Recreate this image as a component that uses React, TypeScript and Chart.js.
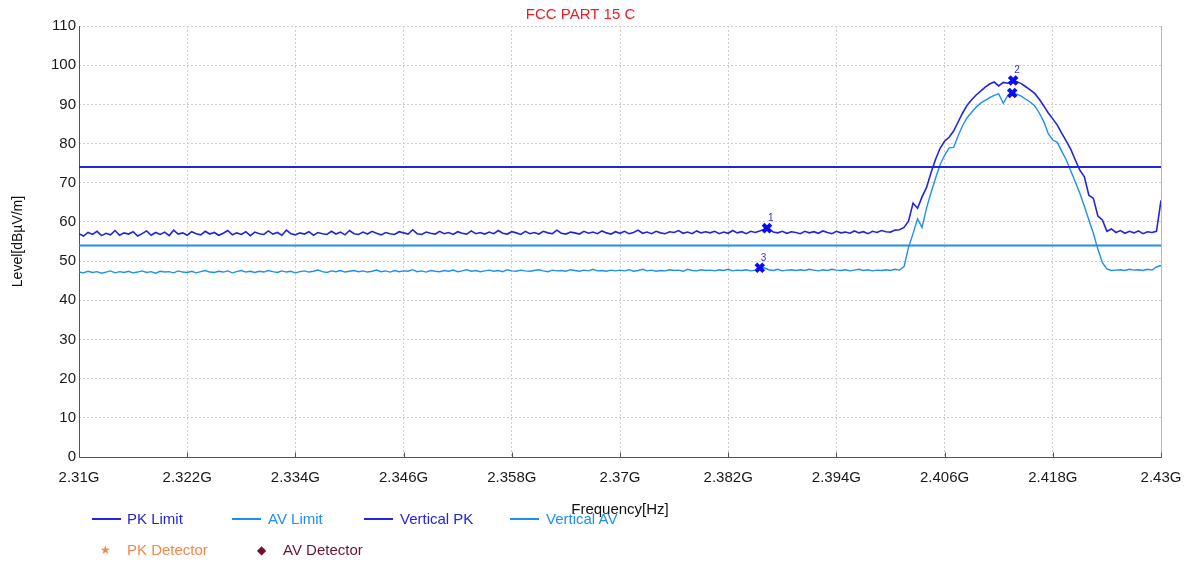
import React, { useEffect, useRef } from 'react';
import { Chart, registerables } from 'chart.js';

Chart.register(...registerables);

// ---- data ----
const FREQ_START_MHZ = 2310;
const FREQ_STEP_MHZ = 0.5; // sweep grid spacing

const xTickValues = [2310, 2322, 2334, 2346, 2358, 2370, 2382, 2394, 2406, 2418, 2430];
const xTickLabels = ['2.31G', '2.322G', '2.334G', '2.346G', '2.358G', '2.37G', '2.382G', '2.394G', '2.406G', '2.418G', '2.43G'];
const yTickValues = [0, 10, 20, 30, 40, 50, 60, 70, 80, 90, 100, 110];

const pkLimitLevel = 74;
const avLimitLevel = 54;

const verticalPK = [
  57.0, 56.4, 57.3, 56.8, 57.6, 56.5, 57.1, 56.7, 57.8, 56.6,
  57.2, 56.9, 57.5, 56.4, 57.0, 57.7, 56.6, 57.3, 56.8, 57.4,
  56.5, 57.9, 56.9, 57.2, 56.6, 57.5, 57.0, 56.7, 57.6, 56.9,
  57.3, 56.6, 57.1, 57.8, 56.7, 57.2, 56.8, 57.5, 56.5, 57.4,
  57.0, 56.8, 57.7, 56.9, 57.3, 56.6, 57.9, 57.0, 56.7, 57.2,
  56.9, 57.5, 56.6, 57.3, 57.0, 56.8, 57.6, 56.9, 57.4, 56.7,
  57.8, 57.0, 56.8, 57.4, 56.9, 57.6, 57.1, 56.7, 57.3, 57.0,
  56.8, 57.5, 57.2, 56.9, 58.0, 57.0, 56.8, 57.4, 57.1, 56.9,
  57.6, 57.0, 57.3, 56.8, 57.5, 57.1, 56.9, 57.7, 57.0, 57.3,
  56.9, 57.4, 57.0, 57.8, 57.1, 56.9, 57.5, 57.2, 56.8, 57.6,
  57.0, 57.3, 56.9, 57.6, 57.2, 57.0, 57.9, 57.1, 56.9, 57.4,
  57.2, 56.9, 57.6, 57.1, 57.4, 57.0, 57.7, 57.2, 56.9, 57.5,
  57.1, 57.6, 57.0, 57.3, 57.9, 57.1, 57.4, 57.0, 57.6, 57.2,
  57.0, 57.5, 57.3, 57.8, 57.1, 57.4, 57.0, 57.7, 57.2, 57.5,
  57.2, 57.6, 57.0, 57.4, 57.1, 57.8, 57.2, 57.5, 57.0, 57.6,
  57.3, 57.7, 58.1, 58.3, 57.4, 57.2, 57.6, 57.1, 57.5, 57.3,
  57.0, 57.6, 57.2, 57.5, 57.1, 57.7, 57.3, 57.0, 57.6, 57.2,
  57.4, 57.1, 57.7, 57.2, 57.5, 57.0, 57.6, 57.3, 57.8, 57.5,
  57.4, 57.9, 58.0, 58.6, 60.2, 64.8, 63.5, 66.4, 68.8, 72.6,
  76.0, 78.8, 80.6, 81.6, 83.2, 85.5, 87.8, 89.8, 91.2, 92.4,
  93.4, 94.4, 95.2, 95.7, 94.7, 95.6, 95.4, 96.1, 95.8, 95.3,
  94.5, 93.7, 92.8, 91.3, 89.6, 87.8, 86.3, 84.7, 82.6, 80.6,
  78.5, 75.8, 73.2, 71.5, 66.8, 66.0, 61.5, 60.5, 57.6, 58.2,
  57.3, 57.8, 57.1, 57.6, 57.2, 57.7, 57.0, 57.5, 57.3, 57.6,
  65.5,
];

const verticalAV = [
  47.2, 47.0, 47.4, 47.1, 47.3, 46.9, 47.2, 47.5, 47.0, 47.3,
  47.1, 47.4, 47.0, 47.2, 47.5, 47.1, 47.3, 46.9, 47.4, 47.2,
  47.3, 47.0, 47.5, 47.2, 47.1, 47.4, 47.0, 47.3, 47.6, 47.2,
  47.1, 47.4, 47.2, 47.5, 47.0, 47.3, 47.6, 47.2, 47.4, 47.1,
  47.4, 47.2, 47.6, 47.3, 47.1, 47.5, 47.2, 47.4, 47.0, 47.3,
  47.5, 47.2, 47.4, 47.7, 47.3, 47.1, 47.5, 47.3, 47.6, 47.2,
  47.4, 47.6, 47.3, 47.5, 47.2, 47.4, 47.7, 47.3, 47.5, 47.2,
  47.6, 47.3, 47.5, 47.4, 47.8, 47.3, 47.5, 47.2, 47.6, 47.4,
  47.3, 47.6, 47.4, 47.7, 47.3, 47.5, 47.8, 47.4, 47.6, 47.3,
  47.5, 47.7, 47.4, 47.6, 47.3, 47.8, 47.5, 47.4, 47.7, 47.5,
  47.4, 47.6, 47.8, 47.5, 47.3, 47.7, 47.5, 47.6, 47.4, 47.8,
  47.6, 47.4, 47.7, 47.5, 47.9, 47.5, 47.6, 47.4, 47.7, 47.5,
  47.7, 47.5, 47.8, 47.4, 47.6, 47.9, 47.5, 47.7, 47.4, 47.6,
  47.5, 47.8, 47.6, 47.7, 47.4, 47.9, 47.6, 47.5, 47.8, 47.6,
  47.7, 47.5, 47.8, 47.6, 47.9, 47.5, 47.7, 47.6, 47.8, 47.5,
  47.7, 48.1, 48.3, 47.8, 47.6, 47.9, 47.5, 47.7, 47.8, 47.6,
  47.8, 47.6, 47.9, 47.7, 47.5, 47.8, 47.6, 47.9, 47.7, 47.6,
  47.8, 47.5, 47.7, 47.9, 47.6, 47.8, 47.5, 47.7, 47.6, 47.8,
  47.6, 47.9, 47.7, 48.6, 53.5, 57.0, 60.8, 58.6, 63.6, 67.5,
  71.2, 74.6, 77.0, 78.9, 79.0, 82.0, 84.6, 86.6, 88.0, 89.3,
  90.3, 91.0, 91.7, 92.3, 92.7, 90.3, 92.2, 92.8, 92.6, 92.1,
  91.3, 90.6, 89.6, 87.8, 85.6, 82.5, 80.9, 80.3, 78.0, 75.8,
  73.0, 70.2, 67.3, 64.0, 60.5, 57.1, 53.0, 49.6, 48.0, 47.6,
  47.7, 47.8, 47.6, 47.9, 47.7, 47.8, 47.6, 47.9, 47.7, 48.5,
  48.9,
];

const markerFreqs = [2386.3, 2413.6, 2385.5, 2413.5];
const markerLevels = [58.4, 96.1, 48.3, 92.9];
const markerLabels = ['1', '2', '3', ''];

// ---- styles ----
const PK_COLOR = '#2424dc';
const AV_COLOR = '#1e8ff2';
const MARKER_COLOR = '#0c0cf0';
const FONT = '"Liberation Sans", Arial, sans-serif';

const legendRow1 = [
  { label: 'PK Limit', color: PK_COLOR, swatch: 92, text: 127 },
  { label: 'AV Limit', color: AV_COLOR, swatch: 232, text: 268 },
  { label: 'Vertical PK', color: PK_COLOR, swatch: 364, text: 400 },
  { label: 'Vertical AV', color: AV_COLOR, swatch: 510, text: 546 },
];
const legendRow2 = [
  { label: 'PK Detector', color: '#f0884a', symbol: '★', sym: 100, text: 127 },
  { label: 'AV Detector', color: '#6e1030', symbol: '◆', sym: 257, text: 283 },
];

export default function App() {
  const canvasRef = useRef<HTMLCanvasElement | null>(null);

  useEffect(() => {
    const canvas = canvasRef.current;
    if (!canvas) return;
    const freqs = verticalPK.map((_, i) => FREQ_START_MHZ + i * FREQ_STEP_MHZ);
    const xMin = xTickValues[0];
    const xMax = xTickValues[xTickValues.length - 1];

    const markerLabelPlugin = {
      id: 'markerLabels',
      afterDatasetsDraw(chart: any) {
        const { ctx, scales } = chart;
        ctx.save();
        ctx.font = `10px ${FONT}`;
        ctx.fillStyle = '#3030d8';
        ctx.textAlign = 'left';
        ctx.textBaseline = 'bottom';
        markerLabels.forEach((lab, i) => {
          if (!lab) return;
          const x = scales.x.getPixelForValue(markerFreqs[i]);
          const y = scales.y.getPixelForValue(markerLevels[i]);
          ctx.fillText(lab, x + 1, y - 5);
        });
        ctx.restore();
      },
    };

    const frameTicksPlugin = {
      id: 'frameTicks',
      beforeDatasetsDraw(chart: any) {
        const { ctx, scales, chartArea } = chart;
        ctx.save();
        ctx.lineWidth = 1;
        ctx.strokeStyle = '#b8b8b8';
        ctx.beginPath();
        ctx.moveTo(Math.round(chartArea.right) + 0.5, chartArea.top);
        ctx.lineTo(Math.round(chartArea.right) + 0.5, chartArea.bottom);
        ctx.stroke();
        ctx.strokeStyle = '#555';
        ctx.beginPath();
        const l = Math.round(chartArea.left) + 0.5;
        const b = Math.round(chartArea.bottom) + 0.5;
        ctx.moveTo(l, chartArea.top);
        ctx.lineTo(l, b);
        ctx.lineTo(chartArea.right + 0.5, b);
        xTickValues.forEach((v) => {
          const x = Math.round(scales.x.getPixelForValue(v)) + 0.5;
          ctx.moveTo(x, b);
          ctx.lineTo(x, b - 5);
        });
        ctx.stroke();
        ctx.restore();
      },
    };

    const chart = new Chart(canvas, {
      type: 'line',
      data: {
        datasets: [
          {
            label: 'PK Limit',
            data: [{ x: xMin, y: pkLimitLevel }, { x: xMax, y: pkLimitLevel }],
            borderColor: PK_COLOR,
            borderWidth: 2,
            pointRadius: 0,
          },
          {
            label: 'AV Limit',
            data: [{ x: xMin, y: avLimitLevel }, { x: xMax, y: avLimitLevel }],
            borderColor: AV_COLOR,
            borderWidth: 2,
            pointRadius: 0,
          },
          {
            label: 'Markers',
            data: markerFreqs.map((f, i) => ({ x: f, y: markerLevels[i] })),
            showLine: false,
            pointStyle: 'crossRot',
            pointRadius: 5.5,
            borderWidth: 4,
            borderColor: MARKER_COLOR,
            backgroundColor: MARKER_COLOR,
          },
          {
            label: 'Vertical PK',
            data: freqs.map((f, i) => ({ x: f, y: verticalPK[i] })),
            borderColor: PK_COLOR,
            borderWidth: 1.6,
            pointRadius: 0,
          },
          {
            label: 'Vertical AV',
            data: freqs.map((f, i) => ({ x: f, y: verticalAV[i] })),
            borderColor: AV_COLOR,
            borderWidth: 1.4,
            pointRadius: 0,
          },
        ],
      },
      options: {
        animation: false,
        responsive: false,
        maintainAspectRatio: false,
        layout: { padding: { left: 0, right: 33, top: 0, bottom: 0 } },
        plugins: {
          legend: { display: false },
          tooltip: { enabled: false },
          title: {
            display: true,
            text: 'FCC PART 15 C',
            color: '#ee1c24',
            font: { family: FONT, size: 15, weight: 'normal' },
            padding: { top: 6, bottom: 2 },
          },
        },
        scales: {
          x: {
            type: 'linear',
            min: xMin,
            max: xMax,
            afterBuildTicks: (scale: any) => {
              scale.ticks = xTickValues.map((v) => ({ value: v }));
            },
            afterFit: (scale: any) => {
              scale.height = 106;
            },
            ticks: {
              autoSkip: false,
              maxRotation: 0,
              padding: 12,
              color: '#1a1a1a',
              font: { family: FONT, size: 15 },
              callback: (v: any) => {
                const idx = xTickValues.indexOf(Number(v));
                return idx >= 0 ? xTickLabels[idx] : '';
              },
            },
            grid: {
              color: '#cfcfcf',
              drawTicks: false,
            },
            border: { display: false, dash: [2, 2] },
            title: {
              display: true,
              text: 'Frequency[Hz]',
              color: '#111',
              font: { family: FONT, size: 15 },
              padding: { top: 0, bottom: 44 },
            },
          },
          y: {
            type: 'linear',
            min: 0,
            max: 110,
            afterBuildTicks: (scale: any) => {
              scale.ticks = yTickValues.map((v) => ({ value: v }));
            },
            afterFit: (scale: any) => {
              scale.width = 79;
            },
            ticks: {
              padding: 3,
              color: '#1a1a1a',
              font: { family: FONT, size: 15 },
              callback: (v: any) => String(v),
            },
            grid: {
              color: '#cfcfcf',
              drawTicks: false,
            },
            border: { display: false, dash: [2, 2] },
            title: {
              display: true,
              text: 'Level[dBµV/m]',
              color: '#111',
              font: { family: FONT, size: 14 },
              padding: { top: 10, bottom: 0 },
            },
          },
        },
      },
      plugins: [markerLabelPlugin, frameTicksPlugin],
    } as any);

    return () => chart.destroy();
  }, []);

  return (
    <div style={{ position: 'fixed', left: 0, top: 0, width: 1194, height: 563, background: '#fff', fontFamily: FONT }}>
      <canvas ref={canvasRef} width={1194} height={563} style={{ position: 'absolute', left: 0, top: 0, width: 1194, height: 563 }} />
      {legendRow1.map((it) => (
        <React.Fragment key={it.label}>
          <div style={{ position: 'absolute', left: it.swatch, top: 518, width: 29, height: 2, background: it.color }} />
          <span style={{ position: 'absolute', left: it.text, top: 510, fontSize: 15, lineHeight: '18px', color: it.color, whiteSpace: 'nowrap' }}>{it.label}</span>
        </React.Fragment>
      ))}
      {legendRow2.map((it) => (
        <React.Fragment key={it.label}>
          <span style={{ position: 'absolute', left: it.sym, top: 543, fontSize: 12, lineHeight: '14px', color: it.color }}>{it.symbol}</span>
          <span style={{ position: 'absolute', left: it.text, top: 541, fontSize: 15, lineHeight: '18px', color: it.color, whiteSpace: 'nowrap' }}>{it.label}</span>
        </React.Fragment>
      ))}
    </div>
  );
}
